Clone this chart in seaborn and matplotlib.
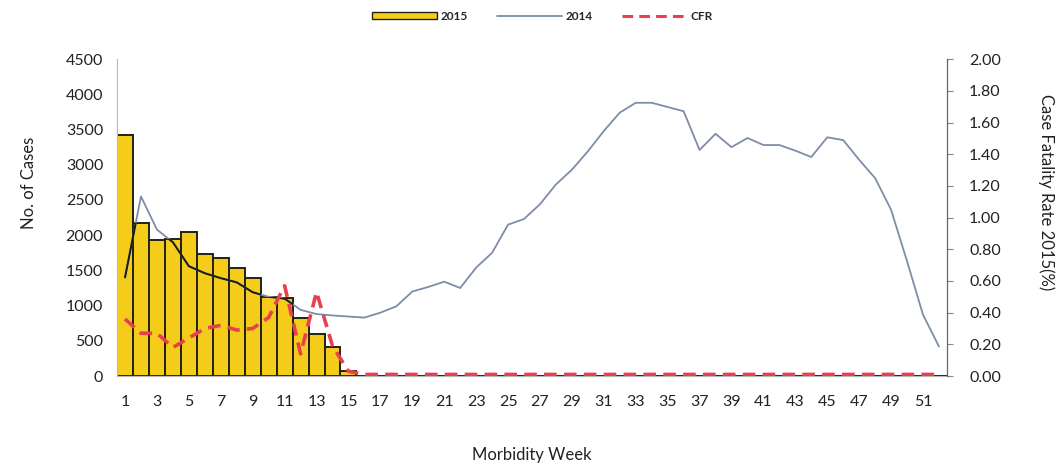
import numpy as np
import pandas as pd
import seaborn as sns
import matplotlib.pyplot as plt
from matplotlib.patches import Patch
from matplotlib.lines import Line2D
from matplotlib.ticker import FormatStrFormatter

# semanas epidemiologicas
weeks = list(range(1, 53))

# casos 2015 (barras)
cases_2015 = [3420, 2180, 1930, 1950, 2050, 1730, 1670, 1540, 1390, 1120,
              1110, 820, 590, 410, 70] + [0] * 37

# casos 2014 (linha)
cases_2014 = [1400, 2550, 2080, 1900, 1560, 1460, 1390, 1330, 1190, 1125,
              1100, 940, 880, 860, 845, 830, 900, 990, 1200, 1265,
              1340, 1250, 1540, 1750, 2150, 2230, 2440, 2720, 2930, 3190,
              3480, 3740, 3880, 3880, 3820, 3760, 3210, 3440, 3250, 3380,
              3280, 3280, 3200, 3110, 3390, 3350, 3070, 2810, 2360, 1630,
              870, 420]

# taxa de letalidade 2015 (%)
cfr_2015 = [0.36, 0.27, 0.27, 0.18, 0.24, 0.30, 0.32, 0.29, 0.30, 0.37,
            0.57, 0.14, 0.53, 0.19, 0.03] + [0.01] * 37

df = pd.DataFrame({'week': weeks, 'c2015': cases_2015,
                   'c2014': cases_2014, 'cfr': cfr_2015})

sns.set_theme(style='white')
plt.rcParams['font.family'] = ['Lato', 'DejaVu Sans']

bar_color = '#F5CC1A'
line_color = '#7D8DA8'
cfr_color = '#E8404F'

fig, ax = plt.subplots(figsize=(10.64, 4.73), dpi=100)
fig.subplots_adjust(left=0.110, right=0.890, bottom=0.205, top=0.875)

sns.barplot(data=df, x='week', y='c2015', native_scale=True, width=1.0,
            color=bar_color, edgecolor='#222214', linewidth=1.4,
            saturation=1, ax=ax)
bars = list(ax.patches)

sns.lineplot(data=df, x='week', y='c2014', color=line_color, linewidth=1.3, ax=ax)

# linha 2014 fica escura quando passa sobre as barras
for b in bars:
    ln, = ax.plot(df['week'], df['c2014'], color='#1a1a1a', linewidth=1.4)
    ln.set_clip_path(b)

ax.set_xlim(0.5, 52.5)
ax.set_ylim(0, 4500)
ax.set_yticks(np.arange(0, 4501, 500))
ax.set_xticks(weeks[::2])
ax.set_xticklabels([str(w) for w in weeks[::2]])
ax.tick_params(axis='both', length=0, labelsize=11.5, colors='#222222')
ax.tick_params(axis='x', pad=14)
ax.tick_params(axis='y', pad=10)
ax.set_xlabel('Morbidity Week', fontsize=12, color='#222222')
ax.set_ylabel('No. of Cases', fontsize=12, color='#222222')
ax.xaxis.set_label_coords(0.5, -0.225)
ax.yaxis.set_label_coords(-0.097, 0.61)

for s in ['top', 'right']:
    ax.spines[s].set_visible(False)
ax.spines['left'].set_color('#b8b8b8')
ax.spines['bottom'].set_color('#b8b8b8')
ax.spines['left'].set_linewidth(0.8)
ax.spines['bottom'].set_linewidth(0.8)

ax2 = ax.twinx()
sns.lineplot(data=df, x='week', y='cfr', color=cfr_color, linewidth=2.6,
             ax=ax2)
ax2.lines[0].set_dashes([3.5, 2])
ax2.set_ylim(0, 2.0)
ax2.set_yticks(np.arange(0, 2.01, 0.2))
ax2.yaxis.set_major_formatter(FormatStrFormatter('%.2f'))
ax2.tick_params(axis='y', length=4, width=0.8, color='#888888', pad=12,
                labelsize=11.5, colors='#222222')
ax2.tick_params(axis='y', which='major', color='#888888')
ax2.set_ylabel('Case Fatality Rate 2015(%)', fontsize=12, rotation=270,
               color='#222222')
ax2.yaxis.set_label_coords(1.13, 0.58)
for s in ['top', 'left', 'bottom']:
    ax2.spines[s].set_visible(False)
ax2.spines['right'].set_color('#666666')
ax2.spines['right'].set_linewidth(0.9)

handles = [Patch(facecolor=bar_color, edgecolor='#222214', linewidth=1.0, label='2015'),
           Line2D([0], [0], color=line_color, linewidth=1.3, label='2014'),
           Line2D([0], [0], color=cfr_color, linewidth=2.2, dashes=[3.5, 2], label='CFR')]
fig.legend(handles=handles, loc='upper center', bbox_to_anchor=(0.51, 1.0),
           ncol=3, frameon=False, fontsize=8.5, handlelength=5.5,
           handleheight=0.6, columnspacing=2.5, handletextpad=0.3,
           prop={'weight': 'bold', 'size': 8.5})

plt.savefig('out.png', dpi=100)
